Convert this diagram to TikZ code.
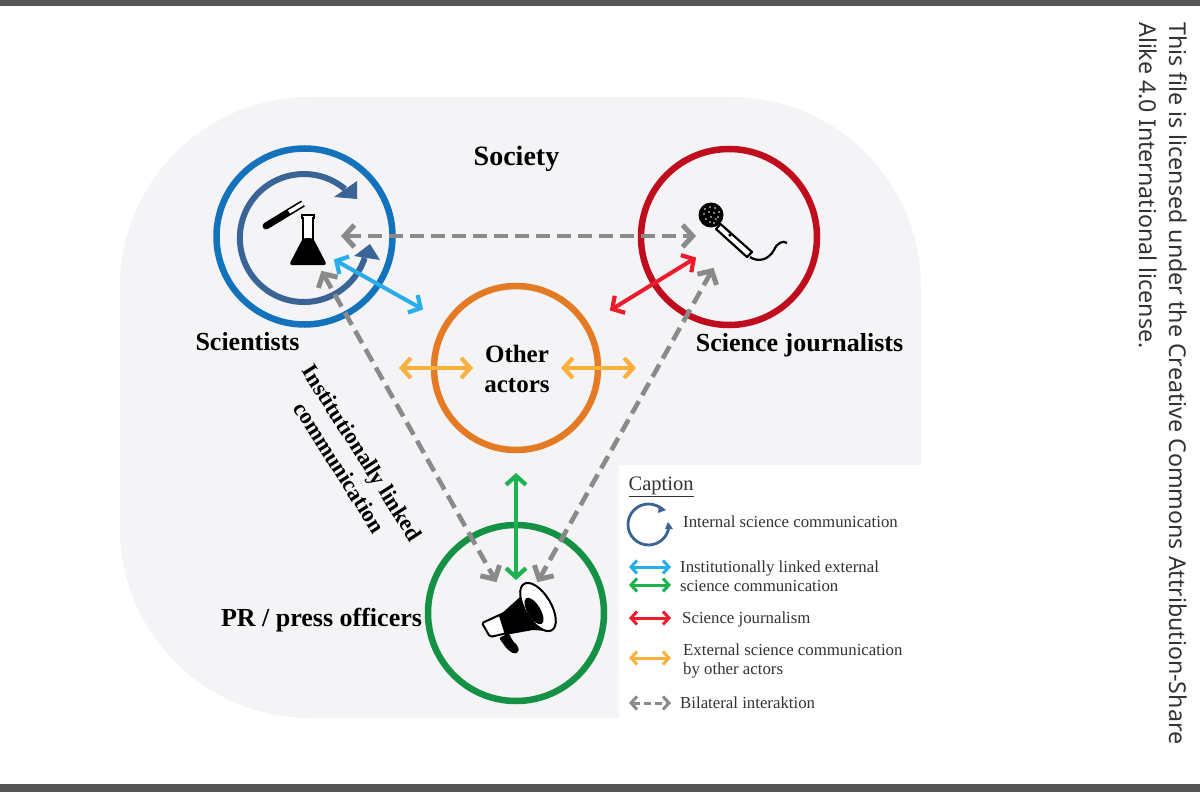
\documentclass[tikz,border=0pt]{standalone}
\usepackage{fontspec}
\setmainfont{Liberation Serif}
\newfontfamily\noticefont{Noto Sans}
\usetikzlibrary{arrows.meta}
\definecolor{bgshape}{HTML}{F4F3F6}
\definecolor{barc}{HTML}{555555}
\definecolor{scib}{HTML}{1272BC}
\definecolor{intb}{HTML}{3A6396}
\definecolor{jourr}{HTML}{C00D1E}
\definecolor{orangec}{HTML}{E57A24}
\definecolor{prg}{HTML}{159146}
\definecolor{gblue}{HTML}{29ADEA}
\definecolor{ggreen}{HTML}{1DB14F}
\definecolor{gred}{HTML}{EE1C2B}
\definecolor{gyel}{HTML}{FBB03B}
\definecolor{ggray}{HTML}{8A8A8A}
\definecolor{captxt}{HTML}{333333}
\tikzset{
  ring/.style={circle,draw,line width=6.5pt,minimum size=176pt,inner sep=0pt},
  both/.style={line width=4pt,{Straight Barb[length=9pt,width=20pt,line width=4.2pt]}-{Straight Barb[length=9pt,width=20pt,line width=4.2pt]},shorten <=1pt,shorten >=1pt},
  dashboth/.style={line width=4.6pt,ggray,dash pattern=on 14pt off 7pt,{Straight Barb[length=10pt,width=22pt,line width=5pt]}-{Straight Barb[length=10pt,width=22pt,line width=5pt]},shorten <=1pt,shorten >=1pt},
  smallboth/.style={line width=3pt,{Straight Barb[length=6pt,width=13pt,line width=3pt]}-{Straight Barb[length=6pt,width=13pt,line width=3pt]}},
  lab/.style={font=\fontsize{26}{30}\selectfont\bfseries,inner sep=0pt,text=black},
  captext/.style={font=\fontsize{16.8}{19}\selectfont,text=captxt,anchor=west,inner sep=0pt,align=left}
}
\begin{document}
\begin{tikzpicture}[x=1pt,y=-1pt]
\useasboundingbox (0,0) rectangle (1200,792);
% frame
\fill[white] (0,0) rectangle (1200,792);
\fill[barc] (0,0) rectangle (1200,6);
\fill[barc] (0,784) rectangle (1200,792);
% society
\fill[bgshape,rounded corners=190pt] (120,97) rectangle (921,718);
\fill[white] (619,465) rectangle (940,730);
% rings
\node[ring,draw=scib] (sci) at (304.5,236.5) {};
\node[ring,draw=jourr] (jour) at (729,237) {};
\node[ring,draw=orangec,minimum size=164pt] (other) at (516,368) {};
\node[ring,draw=prg] (pr) at (516,613) {};
% internal communication loop
\draw[intb,line width=6pt] (345,189) arc[start angle=-50,end angle=-342,radius=64] ;
\fill[intb] (357,181) -- (357,199) -- (334,197) -- cycle;
\fill[intb] (370,244) -- (380,260) -- (354,256) -- cycle;
% flask and tube
\draw[black,line width=1.4pt,fill=white] (302,215) -- (314,215) -- (314,218) -- (313,218) -- (313,240) -- (303,240) -- (303,218) -- (302,218) -- cycle;
\fill[black,rounded corners=3pt] (303,238) -- (313,238) -- (327,265) -- (289,265) -- cycle;
\draw[black,line width=7pt,line cap=round] (266,226) -- (289,212);
\draw[black,line width=7pt] (289,212) -- (303,203.5);
\draw[white,line width=3.6pt] (289,212) -- (303,203.5);
% microphone
\fill[black] (711,215) circle (12.5);
\foreach \a/\b in {705/209,710/207,715/208,719/212,704/214,709/212,714/213,718/217,706/219,711/217,716/219,710/222,714/223}
  \fill[white] (\a,\b) circle (0.9);
\draw[black,line width=2.2pt,fill=white,line join=round] (720.5,224) -- (716,229) -- (747,257) -- (752,252) -- cycle;
\fill[black] (730,235) circle (1.8);
\draw[black,line width=2.2pt] (750,257) .. controls (757,262) and (768,261) .. (774,250) .. controls (777,243) and (783,240) .. (787,243);
% megaphone
\draw[black,line width=2pt,fill=white,line join=round,rounded corners=2pt] (482,623) -- (506,612) -- (512,632) -- (490,637) -- cycle;
\fill[black] (499,616) -- (520,597) -- (524,585) -- (547,631) -- (533,630) -- (505,635) -- cycle;
\fill[black,rounded corners=2pt] (499,638) -- (509,633) -- (512,640) -- (518,646) -- (519,652) -- (514,654) -- (507,649) -- cycle;
\draw[black,line width=2pt,fill=white] (538,607) [rotate around={31:(538,607)}] ellipse (13 and 27);
\fill[black] (534,611) [rotate around={31:(534,611)}] ellipse (6.5 and 15);
% connectors
\coordinate (sciR) at (340,236);
\coordinate (jourL) at (697,236);
\coordinate (sciD) at (321,270);
\coordinate (prL) at (497,583);
\coordinate (jourD) at (714,267);
\coordinate (prR) at (537,583);
\coordinate (sciO) at (333,259);
\coordinate (otherS) at (424,310);
\coordinate (jourO) at (697,257);
\coordinate (otherJ) at (609,311);
\coordinate (yl1) at (398,368);
\coordinate (yl2) at (474,368);
\coordinate (yr1) at (560,368);
\coordinate (yr2) at (637,368);
\coordinate (otherB) at (516,472);
\coordinate (prT) at (516,581);
\draw[dashboth] (sciR) -- (jourL);
\draw[dashboth] (sciD) -- (prL);
\draw[dashboth] (jourD) -- (prR);
\draw[both,gblue] (sciO) -- (otherS);
\draw[both,gred] (otherJ) -- (jourO);
\draw[both,gyel] (yl1) -- (yl2);
\draw[both,gyel] (yr1) -- (yr2);
\draw[both,ggreen] (otherB) -- (prT);
% labels
\node[lab,font=\fontsize{28}{30}\selectfont\bfseries] (society) at (516.5,159) {Society};
\node[lab] (scilab) at (247.5,342) {Scientists};
\node[lab] (jourlab) at (799.5,345) {Science journalists};
\node[lab,align=center,font=\fontsize{25}{30}\selectfont\bfseries] (otherlab) at (517,369) {Other\\actors};
\node[lab] (prlab) at (321.5,620) {PR / press officers};
\node[lab,rotate=-57.5,align=center,font=\fontsize{22.7}{27}\selectfont\bfseries] (instlab) at (351,460) {Institutionally linked\\communication};
% caption
\node[captext,font=\fontsize{20.5}{22}\selectfont] (captitle) at (628.5,487) {\underline{Caption}};
\draw[intb,line width=2.8pt] (663,510) arc[start angle=-45,end angle=-353,radius=20.5] ;
\fill[intb] (659,505) -- (666,510) -- (658,513) -- cycle;
\fill[intb] (665,529) -- (673,529) -- (668,522) -- cycle;
\node[captext] (t1) at (683,522) {Internal science communication};
\coordinate (a1) at (629,567); \coordinate (b1) at (671,567);
\coordinate (a2) at (629,585); \coordinate (b2) at (671,585);
\coordinate (a3) at (629,618); \coordinate (b3) at (671,618);
\coordinate (a4) at (629,658); \coordinate (b4) at (671,658);
\coordinate (a5) at (629,703); \coordinate (b5) at (671,703);
\draw[smallboth,gblue] (a1) -- (b1);
\draw[smallboth,ggreen] (a2) -- (b2);
\draw[smallboth,gred] (a3) -- (b3);
\draw[smallboth,gyel] (a4) -- (b4);
\draw[smallboth,ggray,dash pattern=on 7pt off 4pt] (a5) -- (b5);
\node[captext] (t2) at (680,576.5) {Institutionally linked external\\science communication};
\node[captext] (t3) at (682,619.5) {Science journalism};
\node[captext] (t4) at (683,660.5) {External science communication\\by other actors};
\node[captext] (t5) at (680,703) {Bilateral interaktion};
% licence notice
\node[rotate=-90,anchor=north west,inner sep=0pt,align=left,text=captxt,font=\noticefont\fontsize{23.2}{30}\selectfont] (notice) at (1187,22) {This file is licensed under the Creative Commons Attribution-Share\\Alike 4.0 International license.};
\end{tikzpicture}
\end{document}
